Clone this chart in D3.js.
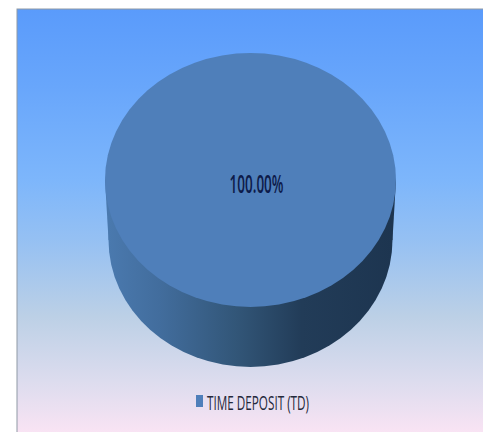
<!DOCTYPE html>
<html>
<head>
<meta charset="utf-8">
<script src="https://cdn.jsdelivr.net/npm/d3@7/dist/d3.min.js"></script>
<style>
html,body{margin:0;padding:0;background:#fff;overflow:hidden}
svg{display:block}
text{font-family:"Open Sans",sans-serif}
</style>
</head>
<body>
<svg id="chart" width="483" height="432"></svg>
<script>
// Deposit mix: a single product holds the whole portfolio.
const categories = ["TIME DEPOSIT (TD)"];
const shares = [100];
const sliceColors = ["#4f7fba"];
const backgroundStops = [
  [0, "#5a9bfb"], [0.18, "#68a6fb"], [0.4, "#7db6fb"], [0.55, "#97c1f2"],
  [0.72, "#bcd0e6"], [0.87, "#dcdcee"], [1, "#fbe4f4"]
];
const sideStops = [
  [0, "#4a79ae"], [0.18, "#426d9d"], [0.45, "#325678"], [0.68, "#223c58"], [1, "#1d3550"]
];

const svg = d3.select("#chart");
const defs = svg.append("defs");

// Tilted pie layout
const cx = 250.5, topCy = 180, topRx = 145.5, topRy = 127;
const baseCy = 240, baseRx = 142, baseRy = 127;

function addGradient(id, stops, configure) {
  const g = defs.append("linearGradient").attr("id", id);
  configure(g);
  g.selectAll("stop").data(stops).join("stop")
    .attr("offset", d => d[0]).attr("stop-color", d => d[1]);
}

addGradient("panelFill", backgroundStops, g =>
  g.attr("x1", 0).attr("y1", 0).attr("x2", 0).attr("y2", 1));

// Same left-to-right shading for the scaled disc and the unscaled band:
// the disc's bounding box already spans the cylinder's width
addGradient("discFill", sideStops, g =>
  g.attr("x1", 0).attr("y1", 0).attr("x2", 1).attr("y2", 0));
addGradient("bandFill", sideStops, g =>
  g.attr("gradientUnits", "userSpaceOnUse")
   .attr("x1", cx - baseRx).attr("y1", 0).attr("x2", cx + baseRx).attr("y2", 0));

// Chart panel, running off the right and bottom of the page
svg.append("rect")
  .attr("x", 17).attr("y", 9).attr("width", 470).attr("height", 427)
  .attr("fill", "url(#panelFill)")
  .attr("stroke", "#8f9aa5").attr("stroke-width", 1);

const pie = d3.pie().sort(null)(shares);
const rim = d3.arc().innerRadius(0).outerRadius(1);

// Wall of the cylinder: the base disc plus the band joining it to the top face
const wall = svg.append("g");
wall.append("path")
  .attr("transform", `translate(${cx},${baseCy}) scale(${baseRx},${baseRy})`)
  .attr("d", rim(pie[0]))
  .attr("fill", "url(#discFill)");

const band = d3.path();
band.moveTo(cx - topRx, topCy);
band.lineTo(cx + topRx, topCy);
band.lineTo(cx + baseRx, baseCy);
band.lineTo(cx - baseRx, baseCy);
band.closePath();
wall.append("path").attr("d", band.toString()).attr("fill", "url(#bandFill)");

// Top face
svg.append("g").selectAll("path").data(pie).join("path")
  .attr("transform", `translate(${cx},${topCy}) scale(${topRx},${topRy})`)
  .attr("d", rim)
  .attr("fill", (d, i) => sliceColors[i]);

// Value label
svg.append("text")
  .attr("x", 256.5).attr("y", 192.5)
  .attr("text-anchor", "middle")
  .attr("font-size", 25)
  .attr("font-weight", 600)
  .attr("textLength", 54).attr("lengthAdjust", "spacingAndGlyphs")
  .attr("fill", "#0d1b4a")
  .text(d3.format(".2f")(shares[0]) + "%");

// Legend
const legend = svg.append("g");
legend.append("rect")
  .attr("x", 196).attr("y", 395).attr("width", 7).attr("height", 12)
  .attr("fill", sliceColors[0]);
legend.append("text")
  .attr("x", 207).attr("y", 410)
  .attr("font-size", 20)
  .attr("textLength", 102).attr("lengthAdjust", "spacingAndGlyphs")
  .attr("fill", "#24283a")
  .text(categories[0]);
</script>
</body>
</html>
